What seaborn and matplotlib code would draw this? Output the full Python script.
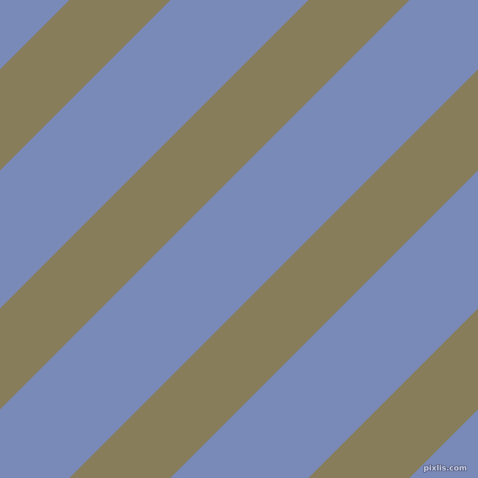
import numpy as np
import matplotlib
matplotlib.use("Agg")
import matplotlib.pyplot as plt
import matplotlib.patheffects as pe
import seaborn as sns

# Stripe boundaries along x + y = c (pixel units, y downward)
stripe_starts = [-68, 70, 171, 309, 410, 548, 649, 787, 888]
stripe_ends = [70, 171, 309, 410, 548, 649, 787, 888, 1026]
stripe_colors = ["#7a8ab8", "#877d5b", "#7a8ab8", "#877d5b", "#7a8ab8",
                 "#877d5b", "#7a8ab8", "#877d5b", "#7a8ab8"]
watermark = "pixlis.com"

sns.set_theme(style="white")
fig = plt.figure(figsize=(4.78, 4.78), dpi=100)
fig.patch.set_facecolor("#7a8ab8")
ax = fig.add_axes([0, 0, 1, 1])
ax.set_xlim(0, 478)
ax.set_ylim(478, 0)
ax.axis("off")

x = np.linspace(-10, 490, 200)
for c0, c1, col in zip(stripe_starts, stripe_ends, stripe_colors):
    ax.fill_between(x, c0 - x, c1 - x, facecolor=col, edgecolor=col,
                    linewidth=0.6)

t = ax.text(467, 468, watermark, ha="right", va="center", fontsize=5.5,
            fontweight="bold", color="#c4cbe0", family="DejaVu Sans")
t.set_path_effects([pe.withStroke(linewidth=1.2, foreground="#5c6488")])

fig.savefig("out.png", dpi=100, facecolor=fig.get_facecolor())
